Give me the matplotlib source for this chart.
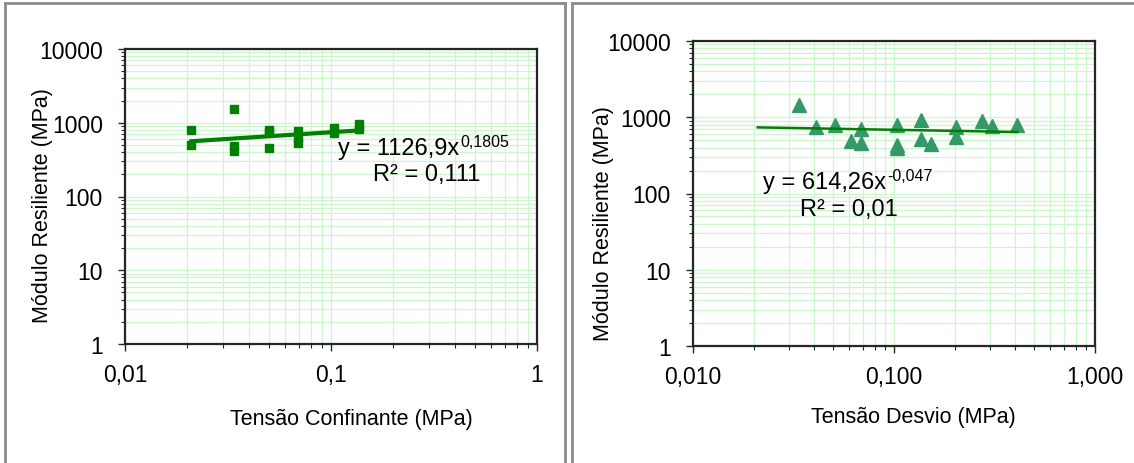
import numpy as np
import matplotlib
matplotlib.use('Agg')
import matplotlib.pyplot as plt
from matplotlib.lines import Line2D
from matplotlib.ticker import FixedLocator, FixedFormatter, LogLocator, NullFormatter

plt.rcParams['font.family'] = ['Liberation Sans', 'DejaVu Sans']

# dados - tensão confinante
conf_x = [0.021, 0.021, 0.034, 0.034, 0.034, 0.050, 0.050, 0.050, 0.069, 0.069, 0.069, 0.103, 0.103, 0.137, 0.137]
conf_mr = [786, 507, 1552, 481, 420, 800, 740, 456, 770, 620, 535, 837, 731, 948, 811]
conf_k1, conf_k2 = 1126.9, 0.1805
conf_eq = 'y = 1126,9x'
conf_exp = '0,1805'
conf_r2 = 'R² = 0,111'

# dados - tensão desvio
desv_x = [0.0337, 0.0411, 0.0507, 0.0613, 0.0686, 0.0686, 0.103, 0.103, 0.103, 0.136, 0.136, 0.153, 0.204, 0.204, 0.275, 0.307, 0.410]
desv_mr = [1462, 745, 783, 489, 708, 464, 800, 436, 395, 912, 524, 441, 745, 551, 884, 767, 783]
desv_k1, desv_k2 = 614.26, -0.047
desv_eq = 'y = 614,26x'
desv_exp = '-0,047'
desv_r2 = 'R² = 0,01'

y_ticks = [1, 10, 100, 1000, 10000]
y_labels = ['1', '10', '100', '1000', '10000']
x_ticks = [0.01, 0.1, 1]
conf_xlabels = ['0,01', '0,1', '1']
desv_xlabels = ['0,010', '0,100', '1,000']

W, H = 1134, 464
fig = plt.figure(figsize=(W / 100, H / 100), dpi=100)


def px_axes(x0, y0, x1, y1):
    return fig.add_axes([x0 / W, 1 - y1 / H, (x1 - x0) / W, (y1 - y0) / H])


def style(ax, xlabels):
    ax.set_xscale('log')
    ax.set_yscale('log')
    ax.set_xlim(0.01, 1)
    ax.set_ylim(1, 10000)
    ax.yaxis.set_major_locator(FixedLocator(y_ticks))
    ax.yaxis.set_major_formatter(FixedFormatter(y_labels))
    ax.xaxis.set_major_locator(FixedLocator(x_ticks))
    ax.xaxis.set_major_formatter(FixedFormatter(xlabels))
    ax.xaxis.set_minor_locator(LogLocator(base=10, subs=np.arange(2, 10)))
    ax.yaxis.set_minor_locator(LogLocator(base=10, subs=np.arange(2, 10)))
    ax.xaxis.set_minor_formatter(NullFormatter())
    ax.yaxis.set_minor_formatter(NullFormatter())
    ax.grid(True, which='both', color='#ccf7cc', lw=0.9)
    ax.set_axisbelow(True)
    for s in ax.spines.values():
        s.set_color('#262626')
        s.set_linewidth(1.6)
    ax.tick_params(which='major', direction='out', length=5, width=1, color='#262626',
                   labelsize=16.5, pad=11)
    ax.tick_params(axis='x', which='major', pad=9)
    ax.tick_params(which='minor', direction='out', length=3, width=0.8, color='#262626')


def equation(x, y, main, sup, r2x, r2y, r2):
    t = fig.text(x / W, 1 - y / H, main, fontsize=17, ha='left', va='baseline')
    bb = t.get_window_extent(fig.canvas.get_renderer())
    fig.text(bb.x1 / W + 0.001, 1 - (y - 8) / H, sup, fontsize=11.5, ha='left', va='baseline')
    fig.text(r2x / W, 1 - r2y / H, r2, fontsize=17, ha='left', va='baseline')


# painel esquerdo
ax1 = px_axes(125, 50, 537, 345)
style(ax1, conf_xlabels)
ax1.plot(conf_x, conf_mr, 's', color='#008000', ms=6.2, zorder=3)
xt = np.geomspace(min(conf_x), max(conf_x), 20)
ax1.plot(xt, conf_k1 * xt ** conf_k2, color='#008000', lw=3, zorder=4)
fig.text(43 / W, 1 - 206 / H, 'Módulo Resiliente (MPa)', rotation=90, fontsize=15.5,
         ha='center', va='center')
fig.text(351 / W, 1 - 419 / H, 'Tensão Confinante (MPa)', fontsize=15.5, ha='center', va='center')

# painel direito
ax2 = px_axes(693, 42, 1095, 347)
style(ax2, desv_xlabels)
ax2.plot(desv_x, desv_mr, '^', color='#339966', ms=10, zorder=3)
xt2 = np.geomspace(0.021, max(desv_x), 20)
ax2.plot(xt2, desv_k1 * xt2 ** desv_k2, color='#008000', lw=1.8, zorder=4)
fig.text(604 / W, 1 - 224 / H, 'Módulo Resiliente (MPa)', rotation=90, fontsize=15.5,
         ha='center', va='center')
fig.text(913 / W, 1 - 418 / H, 'Tensão Desvio (MPa)', fontsize=15.5, ha='center', va='center')

equation(338, 155, conf_eq, conf_exp, 373, 181, conf_r2)
equation(763, 189, desv_eq, desv_exp, 800, 216, desv_r2)

# molduras dos painéis
for xs, ys in [([5, 5], [4, 464]), ([5, 565], [4, 4]), ([565, 565], [4, 464]),
               ([572, 572], [4, 464]), ([572, 1134], [4, 4])]:
    fig.add_artist(Line2D([x / W for x in xs], [1 - y / H for y in ys], color='#8c8c8c', lw=2))

fig.savefig('out.png', dpi=100)
